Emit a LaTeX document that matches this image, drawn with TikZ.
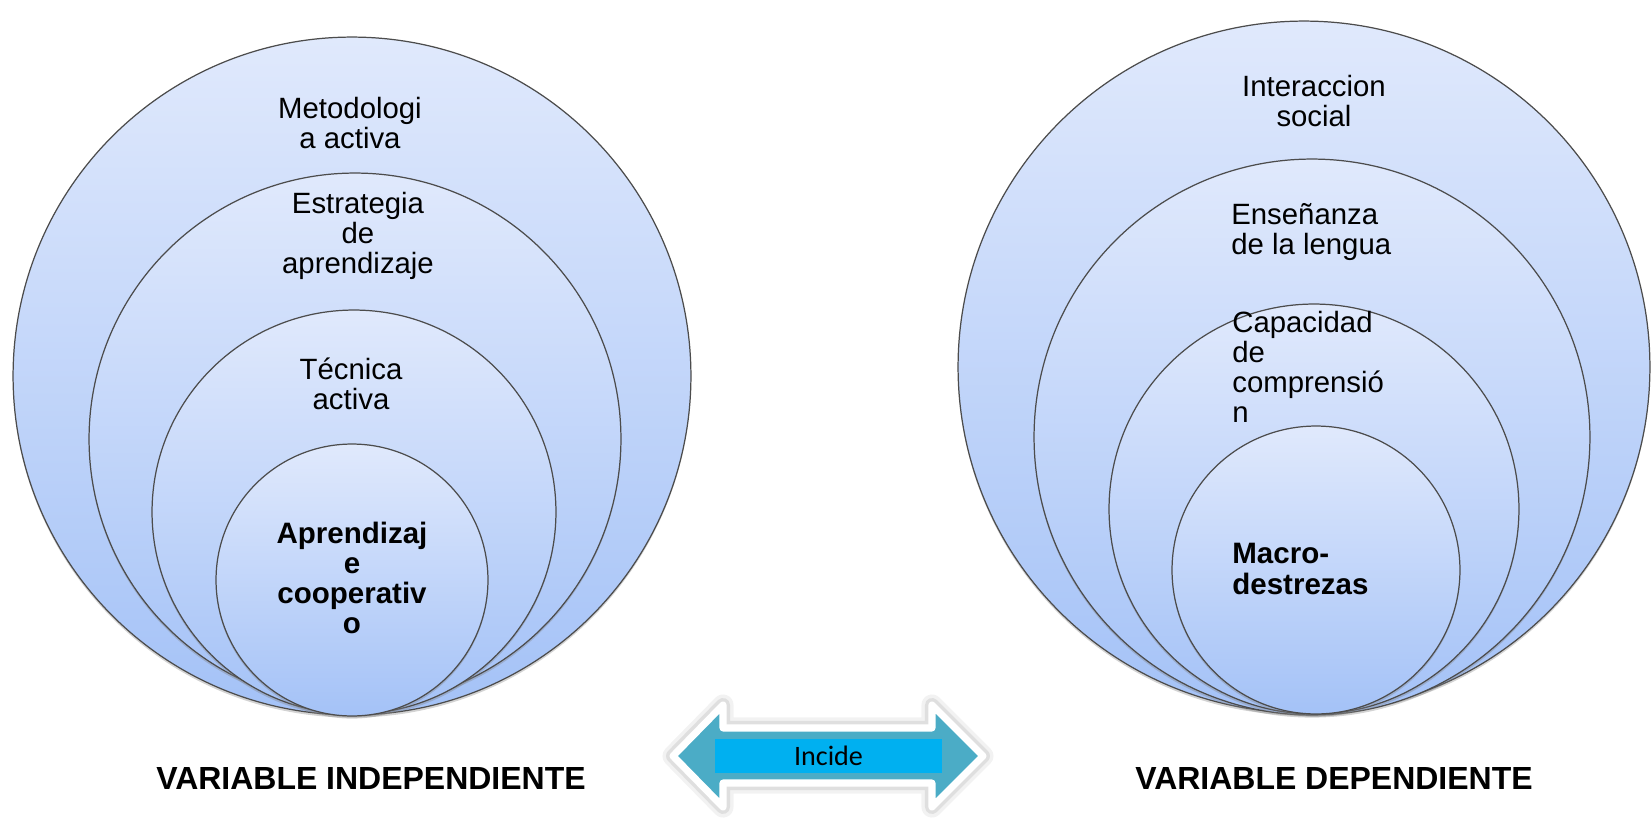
\documentclass[tikz,border=0pt]{standalone}
\usepackage{fontspec}
\setmainfont{Liberation Sans}
\newfontfamily\incidefont{Carlito}
\definecolor{ringtop}{RGB}{224, 233, 252}
\definecolor{ringbot}{RGB}{164, 194, 247}
\definecolor{arrowteal}{RGB}{75, 172, 198}
\definecolor{labelcyan}{RGB}{0, 176, 240}
\usetikzlibrary{shadows, positioning}

\begin{document}
\begin{tikzpicture}[x=0.02cm, y=-0.02cm,
  ring/.style={circle, draw=black!70, line width=0.7pt, top color=ringtop, bottom color=ringbot, inner sep=0pt,
    drop shadow={shadow xshift=0pt, shadow yshift=-1.5pt, opacity=0.35}},
  txt/.style={font=\fontsize{16.7}{17.2}\selectfont, align=center, inner sep=0pt},
  txtbold/.style={font=\fontsize{16.8}{17.2}\selectfont\bfseries, align=center, inner sep=0pt},
  varlabel/.style={font=\fontsize{18.2}{21}\selectfont\bfseries, inner sep=0pt}
]
  \useasboundingbox (0,0) rectangle (1651,822);

  \node[ring, minimum size=13.56cm] (vi1) at (352,376) {};
  \node[ring, minimum size=10.64cm] (vi2) at (355,439) {};
  \node[ring, minimum size=8.08cm] (vi3) at (354,512) {};
  \node[ring, minimum size=5.44cm] (vi4) at (352,580) {};

  \node[txt] (metod) at (350,123) {Metodologi\\a activa};
  \node[txt] (estrat) at (358,236) {Estrategia\\de\\aprendizaje};
  \node[txt] (tecnica) at (351,384) {Técnica\\activa};
  \node[txtbold] (aprend) at (352,578) {Aprendizaj\\e\\cooperativ\\o};

  \node[ring, minimum size=13.84cm] (vd1) at (1304,367) {};
  \node[ring, minimum size=11.12cm] (vd2) at (1312,437) {};
  \node[ring, minimum size=8.2cm] (vd3) at (1314,509) {};
  \node[ring, minimum size=5.76cm] (vd4) at (1316,570) {};

  \node[txt] (interac) at (1314,101) {Interaccion\\social};
  \node[txt, align=left, anchor=west] (ensen) at (1231,232) {Enseñanza\\de la lengua};
  \node[txt, align=left, anchor=west] (capac) at (1232,367) {Capacidad\\de\\comprensió\\n};
  \node[txtbold, align=left, anchor=west] (macro) at (1232,569) {Macro-\\destrezas};

  \node[varlabel] (vind) at (371,778) {VARIABLE INDEPENDIENTE};
  \node[varlabel] (vdep) at (1334,778) {VARIABLE DEPENDIENTE};

  \draw[fill=arrowteal, draw=white, line width=4pt, line join=round,
    preaction={draw=black, opacity=0.05, line width=12pt, line join=round},
    preaction={draw=black, opacity=0.08, line width=8pt, line join=round}]
    (673,756) -- (723,705) -- (723,728) -- (932,728) -- (932,705) -- (983,756)
    -- (932,807) -- (932,783) -- (723,783) -- (723,807) -- cycle;
  \node[fill=labelcyan, minimum width=4.54cm, minimum height=0.68cm, inner sep=0pt,
    font=\incidefont\fontsize{16}{19}\selectfont] (incide) at (828.5,756) {Incide};
\end{tikzpicture}
\end{document}
